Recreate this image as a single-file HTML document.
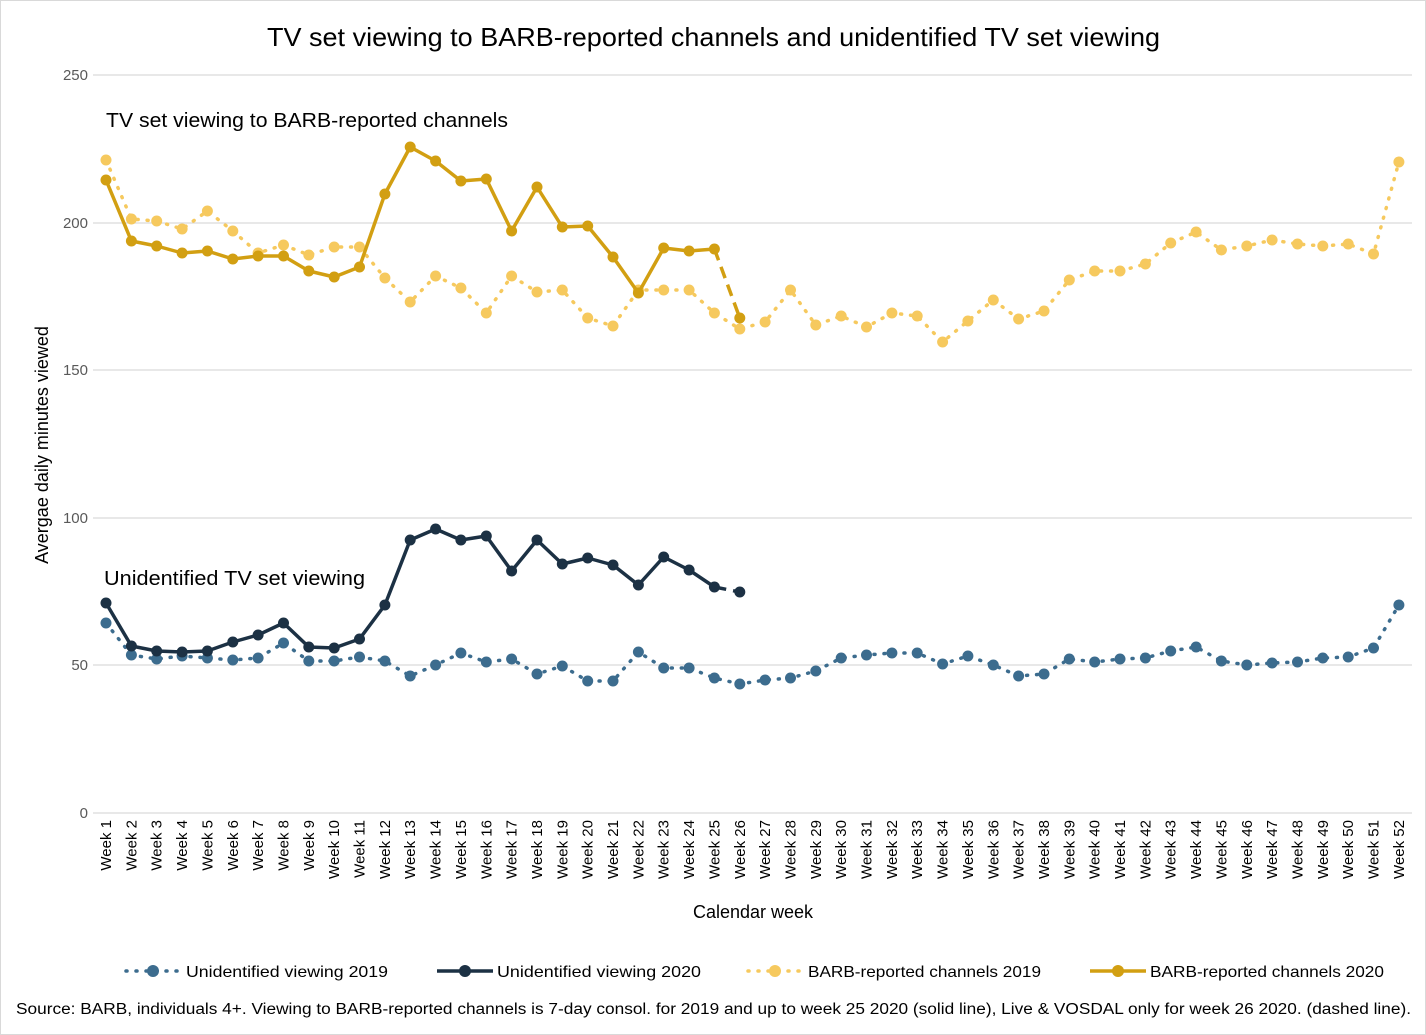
<!DOCTYPE html>
<html><head><meta charset="utf-8"><style>
html,body{margin:0;padding:0;background:#fff;}
svg{display:block;font-family:"Liberation Sans",sans-serif;}
</style></head><body>
<svg width="1426" height="1035" viewBox="0 0 1426 1035" xmlns="http://www.w3.org/2000/svg">
<defs>
<marker id="m20" markerUnits="userSpaceOnUse" markerWidth="14" markerHeight="14" refX="7" refY="7"><circle cx="7" cy="7" r="5.5" fill="#d29f12"/></marker>
<marker id="m19" markerUnits="userSpaceOnUse" markerWidth="14" markerHeight="14" refX="7" refY="7"><circle cx="7" cy="7" r="5.5" fill="#f6c95e"/></marker>
<marker id="u20" markerUnits="userSpaceOnUse" markerWidth="14" markerHeight="14" refX="7" refY="7"><circle cx="7" cy="7" r="5.5" fill="#1c3144"/></marker>
<marker id="u19" markerUnits="userSpaceOnUse" markerWidth="14" markerHeight="14" refX="7" refY="7"><circle cx="7" cy="7" r="5.5" fill="#3c6c8e"/></marker>
</defs>
<rect x="0.5" y="0.5" width="1425" height="1034" fill="#fff" stroke="#d9d9d9"/>
<text x="267" y="46" font-size="26" fill="#000" textLength="893" lengthAdjust="spacingAndGlyphs">TV set viewing to BARB-reported channels and unidentified TV set viewing</text>
<g stroke="#d9d9d9" stroke-width="1.2">
<line x1="93" y1="75" x2="1412" y2="75"/><line x1="93" y1="223" x2="1412" y2="223"/><line x1="93" y1="370" x2="1412" y2="370"/><line x1="93" y1="518" x2="1412" y2="518"/><line x1="93" y1="665" x2="1412" y2="665"/><line x1="93" y1="813" x2="1412" y2="813"/>
</g>
<g font-size="15" fill="#595959" text-anchor="end">
<text x="88" y="80">250</text><text x="88" y="228">200</text><text x="88" y="375">150</text><text x="88" y="523">100</text><text x="88" y="670">50</text><text x="88" y="818">0</text>
</g>
<text transform="translate(48,445) rotate(-90)" font-size="18" text-anchor="middle" fill="#000">Avergae daily minutes viewed</text>
<text x="753" y="918" font-size="18" text-anchor="middle" fill="#000">Calendar week</text>
<text x="106" y="127" font-size="20" fill="#000" textLength="402" lengthAdjust="spacingAndGlyphs">TV set viewing to BARB-reported channels</text>
<text x="104" y="585" font-size="20" fill="#000" textLength="261" lengthAdjust="spacingAndGlyphs">Unidentified TV set viewing</text>

<polyline fill="none" stroke="#f6c95e" stroke-width="3.5" stroke-dasharray="1 9" stroke-linecap="round" marker-start="url(#m19)" marker-mid="url(#m19)" marker-end="url(#m19)" points="106,160 131.4,219 156.7,221 182.1,229 207.4,211 232.8,231 258.1,253 283.5,245 308.8,255 334.2,247 359.5,247 384.9,278 410.2,302 435.6,276 460.9,288 486.3,313 511.6,276 537,292 562.3,290 587.7,318 613,326 638.4,290 663.7,290 689.1,290 714.4,313 739.8,329 765.1,322 790.5,290 815.8,325 841.2,316 866.5,327 891.9,313 917.2,316 942.6,342 967.9,321 993.3,300 1018.6,319 1044,311 1069.3,280 1094.7,271 1120,271 1145.4,264 1170.7,243 1196.1,232 1221.4,250 1246.8,246 1272.1,240 1297.5,244 1322.8,246 1348.2,244 1373.5,254 1398.9,162"/>

<polyline fill="none" stroke="#3c6c8e" stroke-width="3.5" stroke-dasharray="1 9" stroke-linecap="round" marker-start="url(#u19)" marker-mid="url(#u19)" marker-end="url(#u19)" points="106,623 131.4,655 156.7,659 182.1,656 207.4,658 232.8,660 258.1,658 283.5,643 308.8,661 334.2,661 359.5,657 384.9,661 410.2,676 435.6,665 460.9,653 486.3,662 511.6,659 537,674 562.3,666 587.7,681 613,681 638.4,652 663.7,668 689.1,668 714.4,678 739.8,684 765.1,680 790.5,678 815.8,671 841.2,658 866.5,655 891.9,653 917.2,653 942.6,664 967.9,656 993.3,665 1018.6,676 1044,674 1069.3,659 1094.7,662 1120,659 1145.4,658 1170.7,651 1196.1,647 1221.4,661 1246.8,665 1272.1,663 1297.5,662 1322.8,658 1348.2,657 1373.5,648 1398.9,605"/>

<polyline fill="none" stroke="#d29f12" stroke-width="3.5" stroke-linejoin="round" marker-start="url(#m20)" marker-mid="url(#m20)" marker-end="url(#m20)" points="106,180 131.4,241 156.7,246 182.1,253 207.4,251 232.8,259 258.1,256 283.5,256 308.8,271 334.2,277 359.5,267 384.9,194 410.2,147 435.6,161 460.9,181 486.3,179 511.6,231 537,187 562.3,227 587.7,226 613,257 638.4,293 663.7,248 689.1,251 714.4,249"/>
<polyline fill="none" stroke="#d29f12" stroke-width="3.5" stroke-dasharray="12 7" marker-end="url(#m20)" points="714.4,249 739.8,318"/>

<polyline fill="none" stroke="#1c3144" stroke-width="3.5" stroke-linejoin="round" marker-start="url(#u20)" marker-mid="url(#u20)" marker-end="url(#u20)" points="106,603 131.4,646 156.7,651 182.1,652 207.4,651 232.8,642 258.1,635 283.5,623 308.8,647 334.2,648 359.5,639 384.9,605 410.2,540 435.6,529 460.9,540 486.3,536 511.6,571 537,540 562.3,564 587.7,558 613,565 638.4,585 663.7,557 689.1,570 714.4,587"/>
<polyline fill="none" stroke="#1c3144" stroke-width="3.5" stroke-dasharray="12 7" marker-end="url(#u20)" points="714.4,587 739.8,592"/>

<g font-size="15" fill="#000" text-anchor="end">
<text transform="translate(111,820) rotate(-90)">Week 1</text>
<text transform="translate(136.4,820) rotate(-90)">Week 2</text>
<text transform="translate(161.7,820) rotate(-90)">Week 3</text>
<text transform="translate(187.1,820) rotate(-90)">Week 4</text>
<text transform="translate(212.4,820) rotate(-90)">Week 5</text>
<text transform="translate(237.8,820) rotate(-90)">Week 6</text>
<text transform="translate(263.1,820) rotate(-90)">Week 7</text>
<text transform="translate(288.5,820) rotate(-90)">Week 8</text>
<text transform="translate(313.8,820) rotate(-90)">Week 9</text>
<text transform="translate(339.2,820) rotate(-90)">Week 10</text>
<text transform="translate(364.5,820) rotate(-90)">Week 11</text>
<text transform="translate(389.9,820) rotate(-90)">Week 12</text>
<text transform="translate(415.2,820) rotate(-90)">Week 13</text>
<text transform="translate(440.6,820) rotate(-90)">Week 14</text>
<text transform="translate(465.9,820) rotate(-90)">Week 15</text>
<text transform="translate(491.3,820) rotate(-90)">Week 16</text>
<text transform="translate(516.6,820) rotate(-90)">Week 17</text>
<text transform="translate(542,820) rotate(-90)">Week 18</text>
<text transform="translate(567.3,820) rotate(-90)">Week 19</text>
<text transform="translate(592.7,820) rotate(-90)">Week 20</text>
<text transform="translate(618,820) rotate(-90)">Week 21</text>
<text transform="translate(643.4,820) rotate(-90)">Week 22</text>
<text transform="translate(668.7,820) rotate(-90)">Week 23</text>
<text transform="translate(694.1,820) rotate(-90)">Week 24</text>
<text transform="translate(719.4,820) rotate(-90)">Week 25</text>
<text transform="translate(744.8,820) rotate(-90)">Week 26</text>
<text transform="translate(770.1,820) rotate(-90)">Week 27</text>
<text transform="translate(795.5,820) rotate(-90)">Week 28</text>
<text transform="translate(820.8,820) rotate(-90)">Week 29</text>
<text transform="translate(846.2,820) rotate(-90)">Week 30</text>
<text transform="translate(871.5,820) rotate(-90)">Week 31</text>
<text transform="translate(896.9,820) rotate(-90)">Week 32</text>
<text transform="translate(922.2,820) rotate(-90)">Week 33</text>
<text transform="translate(947.6,820) rotate(-90)">Week 34</text>
<text transform="translate(972.9,820) rotate(-90)">Week 35</text>
<text transform="translate(998.3,820) rotate(-90)">Week 36</text>
<text transform="translate(1023.6,820) rotate(-90)">Week 37</text>
<text transform="translate(1049,820) rotate(-90)">Week 38</text>
<text transform="translate(1074.3,820) rotate(-90)">Week 39</text>
<text transform="translate(1099.7,820) rotate(-90)">Week 40</text>
<text transform="translate(1125,820) rotate(-90)">Week 41</text>
<text transform="translate(1150.4,820) rotate(-90)">Week 42</text>
<text transform="translate(1175.7,820) rotate(-90)">Week 43</text>
<text transform="translate(1201.1,820) rotate(-90)">Week 44</text>
<text transform="translate(1226.4,820) rotate(-90)">Week 45</text>
<text transform="translate(1251.8,820) rotate(-90)">Week 46</text>
<text transform="translate(1277.1,820) rotate(-90)">Week 47</text>
<text transform="translate(1302.5,820) rotate(-90)">Week 48</text>
<text transform="translate(1327.8,820) rotate(-90)">Week 49</text>
<text transform="translate(1353.2,820) rotate(-90)">Week 50</text>
<text transform="translate(1378.5,820) rotate(-90)">Week 51</text>
<text transform="translate(1403.9,820) rotate(-90)">Week 52</text>
</g>

<g font-size="16" fill="#000">
<line x1="126" y1="971" x2="180" y2="971" stroke="#3c6c8e" stroke-width="3.5" stroke-dasharray="1 9" stroke-linecap="round"/>
<circle cx="153" cy="971" r="6" fill="#3c6c8e"/>
<text x="186" y="977" textLength="202" lengthAdjust="spacingAndGlyphs">Unidentified viewing 2019</text>
<line x1="437" y1="971" x2="493" y2="971" stroke="#1c3144" stroke-width="3.5"/>
<circle cx="465" cy="971" r="6" fill="#1c3144"/>
<text x="497" y="977" textLength="204" lengthAdjust="spacingAndGlyphs">Unidentified viewing 2020</text>
<line x1="748" y1="971" x2="802" y2="971" stroke="#f6c95e" stroke-width="3.5" stroke-dasharray="1 9" stroke-linecap="round"/>
<circle cx="775" cy="971" r="6" fill="#f6c95e"/>
<text x="808" y="977" textLength="233" lengthAdjust="spacingAndGlyphs">BARB-reported channels 2019</text>
<line x1="1090" y1="971" x2="1146" y2="971" stroke="#d29f12" stroke-width="3.5"/>
<circle cx="1118" cy="971" r="6" fill="#d29f12"/>
<text x="1150" y="977" textLength="234" lengthAdjust="spacingAndGlyphs">BARB-reported channels 2020</text>
<text x="16" y="1014" font-size="15.5" textLength="1395" lengthAdjust="spacingAndGlyphs">Source: BARB, individuals 4+. Viewing to BARB-reported channels is 7-day consol. for 2019 and up to week 25 2020 (solid line), Live &amp; VOSDAL only for week 26 2020. (dashed line).</text>
</g>
</svg>
</body></html>
